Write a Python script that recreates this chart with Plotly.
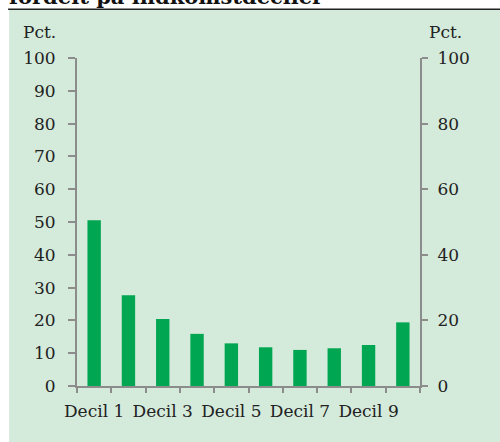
import plotly.graph_objects as go

categories = ["Decil 1", "Decil 2", "Decil 3", "Decil 4", "Decil 5",
              "Decil 6", "Decil 7", "Decil 8", "Decil 9", "Decil 10"]
values = [50.5, 27.7, 20.4, 15.9, 13.0, 11.8, 11.0, 11.5, 12.5, 19.4]
left_ticks = [0, 10, 20, 30, 40, 50, 60, 70, 80, 90, 100]
right_ticks = [0, 20, 40, 60, 80, 100]
title_text = "fordelt på indkomstdeciler"
unit_label = "Pct."

FONT = "DejaVu Serif"
BG = "#D4EADB"
BAR = "#00A651"
AXIS = "#8C8C8C"
TXT = "#222222"

xpos = list(range(1, len(categories) + 1))
shown = [i for i in xpos if i % 2 == 1]

fig = go.Figure()
fig.add_trace(go.Bar(x=xpos, y=values, marker=dict(color=BAR, line=dict(width=0)),
                     width=0.39, showlegend=False, hoverinfo="skip"))
# invisible trace to activate the secondary axes
fig.add_trace(go.Scatter(x=[0.5, 10.5], y=[0, 100], xaxis="x2", yaxis="y2",
                         mode="markers", marker=dict(opacity=0), showlegend=False,
                         hoverinfo="skip"))

fig.update_layout(
    width=500, height=442,
    margin=dict(l=77, r=80, t=58, b=56),
    paper_bgcolor="white",
    plot_bgcolor="rgba(0,0,0,0)",
    font=dict(family=FONT, size=17, color=TXT),
    xaxis=dict(range=[0.5, 10.5], tickvals=shown,
               ticktext=[categories[i - 1] for i in shown],
               ticks="", showline=True, linecolor=AXIS, linewidth=2,
               showgrid=False, zeroline=False, fixedrange=True,
               ticklabelstandoff=9),
    xaxis2=dict(range=[0.5, 10.5], overlaying="x", side="bottom",
                tickvals=[i + 0.5 for i in range(0, 11)], ticks="outside",
                ticklen=6, tickwidth=2, tickcolor=AXIS, showticklabels=False,
                showline=False, showgrid=False, zeroline=False, anchor="y"),
    yaxis=dict(range=[0, 100], tickvals=left_ticks, ticks="outside", ticklen=7,
               tickwidth=2, tickcolor=AXIS, showline=True, linecolor=AXIS,
               linewidth=2, showgrid=False, zeroline=False, ticklabelstandoff=9),
    yaxis2=dict(range=[0, 100], tickvals=right_ticks, overlaying="y", side="right",
                ticks="outside", ticklen=6, tickwidth=2, tickcolor=AXIS,
                showline=True, linecolor=AXIS, linewidth=2, showgrid=False,
                zeroline=False, anchor="x", ticklabelstandoff=6),
    bargap=0.6,
    shapes=[
        dict(type="rect", xref="paper", yref="paper", x0=-0.198, x1=1.24,
             y0=-0.18, y1=1.146, fillcolor=BG, line=dict(width=0), layer="below"),
        dict(type="line", xref="paper", yref="paper", x0=-0.201, x1=1.24,
             y0=1.149, y1=1.149, line=dict(color="#222222", width=1.5)),
    ],
    annotations=[
        dict(text=unit_label, xref="paper", yref="paper", x=-0.162, y=1.042,
             xanchor="left", yanchor="bottom", showarrow=False,
             font=dict(family=FONT, size=17, color=TXT)),
        dict(text=unit_label, xref="paper", yref="paper", x=1.02, y=1.042,
             xanchor="left", yanchor="bottom", showarrow=False,
             font=dict(family=FONT, size=17, color=TXT)),
        dict(text="<b>" + title_text + "</b>", xref="paper", yref="paper",
             x=-0.203, y=1.143, xanchor="left", yanchor="bottom", showarrow=False,
             font=dict(family=FONT, size=21, color="#111111")),
    ],
)

fig.write_html("out.html", config={"displayModeBar": False},
               post_script="document.body.style.margin='0';document.body.style.padding='0';")
